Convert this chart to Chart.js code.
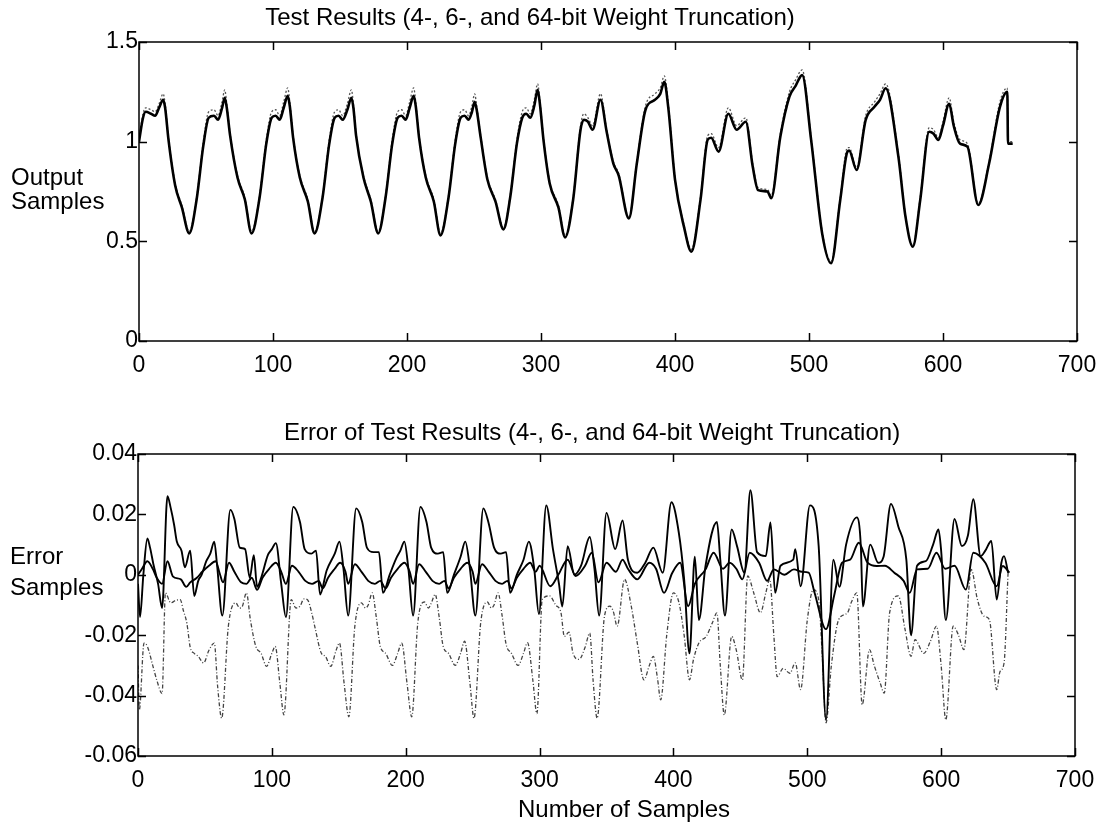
<!DOCTYPE html>
<html>
<head>
<meta charset="utf-8">
<script src="https://cdn.jsdelivr.net/npm/chart.js@4.4.0/dist/chart.umd.min.js"></script>
<style>
body { margin: 0; background: #fff; }
#wrapTop { position: absolute; left: 0; top: 0; width: 1109px; height: 390px; }
#wrapBot { position: absolute; left: 0; top: 390px; width: 1109px; height: 432px; }
</style>
</head>
<body>
<div id="wrapTop"><canvas id="topChart" width="1109" height="390"></canvas></div>
<div id="wrapBot"><canvas id="botChart" width="1109" height="432"></canvas></div>
<script>
// sample positions and output values
var topX = [0,3,5,9,12,15,18,19.5,22,27,
  32,37.5,43,48,52,56,59,62,64,65.5,
  68,73.5,79,84,90,95,99,102,105,108,
  111,112.5,115,120,126,131,137,142,146,149,
  152,155.5,158.5,160,162,167.5,173,178.5,184,189,
  193,196,199,202,205,206.5,209,214,220,225,
  231,236,240,243,246,248.5,250.5,252,255,260,
  266,272,277,282,286,289,292,295,297.5,299,
  302,306.5,313,318,324,329.5,332,335,338.5,344.4,
  349,354,358,365.6,371.5,378,385,389,392,395,
  400,406.8,412.2,419,424.4,427,432.5,439.8,446,452.8,
  458,462,469,471.8,478.6,485.4,490,494.9,501.6,509.8,
  516.5,523.3,528.7,530,535.5,542.3,549,553,557.2,566.7,
  572,577.5,583,589.7,593,596.5,600,604.6,608,612.7,
  618.2,626.3,634.4,642.5,648,648.5,652];

// 64-bit weights (solid)
var out64 = [1.00,1.12,1.15,1.14,1.13,1.17,1.21,1.17,1.01,0.78,
  0.67,0.54,0.71,0.98,1.12,1.13,1.11,1.17,1.22,1.17,
  1.03,0.82,0.71,0.54,0.72,0.99,1.12,1.13,1.11,1.17,
  1.23,1.18,1.02,0.82,0.70,0.54,0.72,0.99,1.12,1.13,
  1.11,1.16,1.22,1.17,1.03,0.82,0.70,0.54,0.72,0.99,
  1.12,1.13,1.11,1.17,1.23,1.18,1.02,0.82,0.70,0.53,
  0.72,0.99,1.12,1.13,1.11,1.15,1.20,1.16,1.02,0.81,
  0.70,0.56,0.72,0.99,1.12,1.14,1.12,1.18,1.26,1.20,
  1.00,0.79,0.67,0.52,0.71,1.06,1.11,1.10,1.06,1.21,
  1.05,0.89,0.83,0.615,0.89,1.16,1.21,1.24,1.30,1.17,
  0.81,0.57,0.448,0.707,1.01,1.02,0.95,1.14,1.06,1.10,
  0.875,0.757,0.75,0.716,1.025,1.226,1.28,1.334,1.008,0.54,
  0.39,0.707,0.95,0.955,0.858,1.109,1.176,1.21,1.268,0.925,
  0.624,0.473,0.707,1.05,1.04,1.008,1.08,1.19,1.08,0.99,
  0.975,0.682,0.89,1.175,1.25,0.99,0.99];

// 4-bit weights (dotted, slightly above at the peaks)
var out4 = [1.01,1.14,1.17,1.16,1.15,1.19,1.24,1.19,1.02,0.79,
  0.68,0.55,0.72,1.00,1.15,1.16,1.13,1.20,1.26,1.19,
  1.04,0.83,0.72,0.55,0.73,1.01,1.15,1.16,1.13,1.20,
  1.27,1.20,1.03,0.83,0.71,0.55,0.73,1.01,1.15,1.16,
  1.13,1.19,1.26,1.19,1.04,0.83,0.71,0.55,0.73,1.01,
  1.15,1.16,1.13,1.20,1.27,1.20,1.03,0.83,0.71,0.54,
  0.73,1.01,1.15,1.16,1.13,1.18,1.24,1.18,1.03,0.82,
  0.71,0.57,0.73,1.01,1.15,1.17,1.14,1.21,1.29,1.22,
  1.01,0.80,0.68,0.53,0.72,1.08,1.14,1.12,1.08,1.24,
  1.06,0.90,0.84,0.62,0.90,1.18,1.24,1.27,1.33,1.19,
  0.82,0.58,0.46,0.72,1.03,1.04,0.97,1.17,1.08,1.12,
  0.89,0.77,0.76,0.73,1.04,1.25,1.31,1.36,1.02,0.55,
  0.40,0.72,0.97,0.97,0.87,1.13,1.20,1.24,1.29,0.94,
  0.63,0.48,0.72,1.07,1.06,1.02,1.10,1.22,1.10,1.01,
  0.99,0.69,0.90,1.20,1.27,1.00,1.00];

// error curves in the lower plot
var errAX = [0,1.5,4,7,9,11.5,15,18,22,24.5,
  27,29,32.5,35,39,42,45,47.5,51,54,
  57,59,63,69,72,76,80,83.5,86.5,89,
  92,97,100,103,107,110.5,116,121,124.5,129.5,
  133,136,141,147,150.5,153.5,157,163,167.5,171,
  176,180,183,188,193,196,199,202,205.5,211,
  215.5,219,224,228,231,236,241,244.5,248,252,
  258,262,266,271,275,278,283,288,292,296,
  299.5,305,310,314.5,317,321,326,331,337.5,341,
  344.5,350,356.5,362,366,373,379,385,392,398.5,
  404,408,412,416,419,424,432.5,435,438.5,443.5,
  447.5,453,457.5,462.5,469,472.5,476,480,489.5,491,
  495,502,508.5,514,519.5,524,529,537,540,541.5,
  547,553,557,562.5,568,574,577.5,582,588.5,594,
  598,600,603.5,610,615.5,620,624,629.5,633,637.5,
  641.5,645,647,650];
var errA = [-0.003,-0.014,0,0.012,0.009,0.0035,-0.003,-0.011,0.026,0.022,
  0.0165,0.011,0.008,0.0025,0.008,-0.007,-0.002,0,0.0045,0.007,
  0.011,0.0035,-0.0135,0.0215,0.0185,0.009,0.0085,-0.001,0.0065,-0.004,
  -0.001,0.0065,0.0085,0.0105,-0.003,-0.014,0.0225,0.0175,0.0085,0.007,
  0.008,-0.0065,0.0015,0.007,0.011,0.002,-0.0135,0.022,0.0175,0.009,
  0.0075,0.0075,-0.006,0,0.0055,0.008,0.011,0.002,-0.0135,0.0225,
  0.0175,0.009,0.007,0.0075,-0.006,0,0.006,0.011,0.002,-0.0135,
  0.022,0.017,0.009,0.007,0.0075,-0.006,0,0.005,0.011,0.002,
  -0.013,0.023,0.0085,-0.003,-0.0105,0.0095,0,0.003,0.0125,0.002,
  -0.0135,0.0205,0.0085,0.018,0.005,0.0007,0.004,0.009,0.0007,0.024,
  0.014,-0.0015,-0.026,0.006,-0.015,0.003,0.0175,0.005,-0.0135,0.015,
  0.0095,0.0007,0.028,0.0075,0.0062,0.0173,-0.006,0.003,0.005,0.0085,
  -0.0038,0.023,0.0095,-0.048,0.005,-0.004,0.01,0.019,0.0095,-0.0105,
  0.01,0.004,0.006,0.0235,0.016,0.005,-0.02,0.003,0.0045,0.01,
  0.015,0.008,-0.015,0.0185,0.0095,0.013,0.025,0.0062,0.008,0.0112,
  -0.0082,0.004,0.0062,0.0007];

var errBX = [0,3,7,11,14,18,22,26,32,36,
  39,44,48,53,58,61,63.5,68,72,77,
  81,85,89,93,98,103,107,110.5,115,120,
  125,130,135,138,142,147,151,155,157,162,
  167,172,177,181,185,189,194,199,203,205.5,
  210,215,220,225,229,232,236,241,246,250,
  252,257,262,267,272,276,279,283,288,293,
  297,300,308,314,321,327,334,339,344,350,
  357,362,366,373,382,387,393,399,405,411,
  416,424,430,437,442,447,451.5,457,464,470,
  475,483,490,496,501,505.5,514,520,526,532,
  538.5,545,552,558,565,572,576.5,582,590,596.5,
  603,610,618.5,624,633,641.5,646,651];
var errB = [0,0.002,0.0045,0.002,-0.001,-0.003,0.0045,-0.0005,-0.0015,-0.004,
  -0.0025,-0.001,0.001,0.003,0.0045,0.0005,-0.0025,0.004,0.001,-0.0025,
  -0.003,-0.001,-0.005,-0.001,0.002,0.004,0.001,-0.003,0.003,0.001,
  -0.002,-0.003,-0.002,-0.0045,-0.001,0.002,0.004,0.001,-0.003,0.0035,
  0.001,-0.002,-0.003,-0.002,-0.0045,-0.001,0.002,0.004,0.001,-0.003,
  0.0035,0.001,-0.002,-0.003,-0.002,-0.0045,-0.001,0.002,0.004,0.001,
  -0.003,0.0035,0.001,-0.002,-0.003,-0.002,-0.0045,-0.001,0.002,0.004,
  0.001,0.003,-0.0038,0,0.005,-0.0004,0.003,0.0073,-0.0025,0.004,
  0.001,0.005,0.002,-0.0015,0.004,0.002,-0.006,0.0005,0.004,-0.0104,
  -0.003,0.0018,0.0073,0.002,0.004,0.002,-0.0015,0.0073,0.004,-0.002,
  0.0018,0,0.0018,0.001,0.0007,-0.006,-0.018,-0.007,0.004,0.005,
  0.0106,0.004,0.0029,0.003,0.0007,-0.002,-0.006,0.0018,0.002,0.0073,
  0.002,0.003,-0.0049,0.0073,0.004,-0.0038,0.0029,0.0007];

var errCX = [0,1,4.5,7,11,14,18,20.5,24.5,28,
  31.5,34,36.5,39,42,45,49,53,57,59.5,
  62.5,67.5,73,76,78,81,84,88,92,96,
  100,102.5,106,109,114.5,118,121,124,126.5,130,
  132,137,140,144,148,150.5,154,157.5,162,167,
  170,172,175,178,181,185,190,194,197,201,
  204.5,209,214,217,219,222,225,228,232,237,
  241,244,248,251,256,261,264,266,269,272,
  275,279,284,288,291,295,298,302,307.5,312,
  316,318.5,322,325,329.5,334,337.5,340,343,348.5,
  352.5,355,358,363.5,368.5,373,378,382,385,388,
  390.5,395,400,404,408,412,415,419,424.5,429,
  432.5,435,438,443.5,447,451.5,455.5,460,465,469,
  472,475,477.5,482,487,491,495,500,504.5,508.5,
  511,514,518,523.5,530,533,537,541,546.5,550,
  554.5,557.5,561.5,568,573,577.5,580.5,587,592,596.5,
  600,603.5,609,613,617,622.5,627,632,636,641.5,
  644,647,650];
var errC = [-0.03,-0.0447,-0.0226,-0.0237,-0.03,-0.0348,-0.0393,-0.006,-0.0093,-0.0085,
  -0.0082,-0.012,-0.016,-0.024,-0.026,-0.027,-0.0292,-0.025,-0.0226,-0.037,
  -0.0475,-0.017,-0.0093,-0.011,-0.0104,-0.006,-0.015,-0.0237,-0.026,-0.0303,
  -0.026,-0.0237,-0.036,-0.0464,-0.0082,-0.011,-0.0104,-0.008,-0.0082,-0.013,
  -0.017,-0.026,-0.027,-0.0303,-0.025,-0.0226,-0.036,-0.047,-0.017,-0.0093,
  -0.011,-0.01,-0.006,-0.014,-0.0237,-0.026,-0.03,-0.026,-0.0226,-0.036,
  -0.047,-0.016,-0.009,-0.011,-0.0095,-0.0065,-0.014,-0.0237,-0.026,-0.03,
  -0.026,-0.022,-0.036,-0.0475,-0.016,-0.009,-0.011,-0.01,-0.006,-0.0135,
  -0.023,-0.026,-0.03,-0.026,-0.0225,-0.035,-0.046,-0.0082,-0.007,-0.01,
  -0.0126,-0.0204,-0.019,-0.026,-0.028,-0.024,-0.0193,-0.035,-0.0475,-0.0137,
  -0.0104,-0.012,-0.017,-0.0015,-0.0104,-0.0226,-0.0348,-0.03,-0.027,-0.034,
  -0.0414,-0.02,-0.006,-0.009,-0.02,-0.0348,-0.028,-0.0226,-0.0204,-0.016,
  -0.0126,-0.03,-0.0464,-0.0204,-0.025,-0.0348,-0.0004,-0.006,-0.0126,-0.006,
  -0.0015,-0.02,-0.0337,-0.031,-0.0326,-0.0292,-0.038,-0.015,-0.0049,-0.0082,
  -0.025,-0.049,-0.03,-0.0148,-0.0126,-0.009,-0.006,-0.043,-0.0248,-0.03,
  -0.0359,-0.0392,-0.0126,-0.007,-0.018,-0.027,-0.0215,-0.026,-0.022,-0.017,
  -0.03,-0.048,-0.017,-0.02,-0.0248,0.0018,-0.008,-0.0137,-0.0148,-0.038,
  -0.032,-0.0292,0.0007];

var xTicksMax = 700;

function pts(xs, ys) {
  return xs.map(function (x, i) { return { x: x, y: ys[i] }; });
}

var FONT = '"Liberation Sans", Arial, Helvetica, sans-serif';

// box with inward ticks on all sides + the free-standing labels, matlab style
var framePlugin = {
  id: 'frame',
  afterDraw: function (chart, args, opts) {
    var ctx = chart.ctx, a = chart.chartArea;
    var xs = chart.scales.x, ys = chart.scales.y;
    ctx.save();
    ctx.strokeStyle = '#000';
    ctx.lineWidth = 1.5;
    ctx.strokeRect(a.left, a.top, a.right - a.left, a.bottom - a.top);
    ctx.beginPath();
    xs.ticks.forEach(function (t) {
      var px = Math.round(xs.getPixelForValue(t.value)) + 0.5;
      ctx.moveTo(px, a.bottom); ctx.lineTo(px, a.bottom - 8);
      ctx.moveTo(px, a.top); ctx.lineTo(px, a.top + 8);
    });
    ys.ticks.forEach(function (t) {
      var py = Math.round(ys.getPixelForValue(t.value)) + 0.5;
      ctx.moveTo(a.left, py); ctx.lineTo(a.left + 8, py);
      ctx.moveTo(a.right, py); ctx.lineTo(a.right - 8, py);
    });
    ctx.stroke();

    ctx.fillStyle = '#000';
    ctx.font = '24px ' + FONT;
    ctx.textBaseline = 'middle';
    ctx.textAlign = 'center';
    ctx.fillText(opts.title, opts.titleX, opts.titleY);
    if (opts.xLabel) ctx.fillText(opts.xLabel, opts.xLabelX, opts.xLabelY);
    ctx.textAlign = 'left';
    opts.yLabel.forEach(function (line, i) {
      ctx.fillText(line, opts.yLabelX, opts.yLabelY[i]);
    });
    ctx.restore();
  }
};

// matlab prints 1 rather than 1.0
function plainNumber(v) {
  return String(Math.round(v * 1000) / 1000);
}

function makeOptions(yMin, yMax, yStep, yWidth, xHeight, padTop, padRight, frame) {
  return {
    responsive: false,
    animation: false,
    events: [],
    layout: { padding: { top: padTop, right: padRight, left: 0, bottom: 0 } },
    plugins: { legend: { display: false }, tooltip: { enabled: false }, title: { display: false }, frame: frame },
    elements: { point: { radius: 0 }, line: { cubicInterpolationMode: 'monotone' } },
    scales: {
      x: {
        type: 'linear', min: 0, max: xTicksMax,
        grid: { display: false, drawTicks: false },
        border: { display: false },
        ticks: { stepSize: 100, color: '#000', padding: 11, maxRotation: 0, font: { family: FONT, size: 23 } },
        afterFit: function (s) { s.height = xHeight; }
      },
      y: {
        min: yMin, max: yMax,
        grid: { display: false, drawTicks: false },
        border: { display: false },
        ticks: { stepSize: yStep, color: '#000', padding: 1, font: { family: FONT, size: 23 }, callback: plainNumber },
        afterFit: function (s) { s.width = yWidth; }
      }
    }
  };
}

new Chart(document.getElementById('topChart'), {
  type: 'line',
  data: {
    datasets: [
      { label: '64-bit', data: pts(topX, out64), borderColor: '#000', borderWidth: 2.6 },
      { label: '4-bit', data: pts(topX, out4), borderColor: '#555', borderWidth: 1.3, borderDash: [2, 2] }
    ]
  },
  options: makeOptions(0, 1.5, 0.5, 139, 49, 42, 32, {
    title: 'Test Results (4-, 6-, and 64-bit Weight Truncation)',
    titleX: 530, titleY: 18,
    yLabel: ['Output', 'Samples'], yLabelX: 11, yLabelY: [178, 202]
  }),
  plugins: [framePlugin]
});

new Chart(document.getElementById('botChart'), {
  type: 'line',
  data: {
    datasets: [
      { label: 'error A', data: pts(errAX, errA), borderColor: '#000', borderWidth: 1.9 },
      { label: 'error B', data: pts(errBX, errB), borderColor: '#000', borderWidth: 1.9 },
      { label: 'error C', data: pts(errCX, errC), borderColor: '#444', borderWidth: 1.3, borderDash: [4, 2, 1, 2] }
    ]
  },
  options: makeOptions(-0.06, 0.04, 0.02, 138, 66, 64, 34, {
    title: 'Error of Test Results (4-, 6-, and 64-bit Weight Truncation)',
    titleX: 592, titleY: 43,
    xLabel: 'Number of Samples', xLabelX: 624, xLabelY: 420,
    yLabel: ['Error', 'Samples'], yLabelX: 10, yLabelY: [167, 198]
  }),
  plugins: [framePlugin]
});
</script>
</body>
</html>
